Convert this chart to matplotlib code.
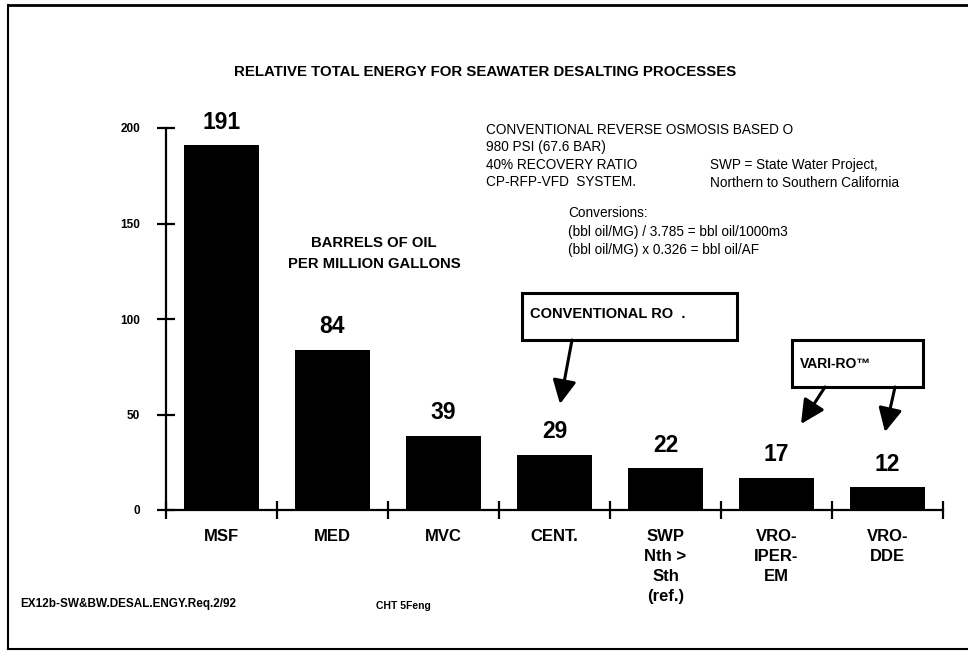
import matplotlib
matplotlib.use("Agg")
import matplotlib.pyplot as plt
from matplotlib.patches import Rectangle, FancyArrowPatch
from matplotlib.lines import Line2D

plt.rcParams['font.family'] = ['Liberation Sans', 'DejaVu Sans']

processes = ['MSF', 'MED', 'MVC', 'CENT.', 'SWP\nNth >\nSth\n(ref.)', 'VRO-\nIPER-\nEM', 'VRO-\nDDE']
barrels = [191, 84, 39, 29, 22, 17, 12]
yticks = [0, 50, 100, 150, 200]

W, H = 968, 660
fig = plt.figure(figsize=(W / 100, H / 100), dpi=100)

def px(x, y):
    # pixel coords (from top-left) -> figure fraction
    return x / W, 1 - y / H

ax = fig.add_axes([166 / W, (H - 510) / H, (943 - 166) / W, (510 - 128) / H])
centers = [i + 0.5 for i in range(len(barrels))]
ax.bar(centers, barrels, width=0.68, color='black')
ax.set_xlim(0, 7)
ax.set_ylim(0, 200)
for s in ['top', 'right']:
    ax.spines[s].set_visible(False)
for s in ['left', 'bottom']:
    ax.spines[s].set_linewidth(1.6)
ax.set_yticks(yticks)
ax.set_yticklabels([str(t) for t in yticks], fontsize=8.5, fontweight='bold')
ax.set_xticks(range(8))
ax.set_xticklabels([''] * 8)
ax.set_xticks(centers, minor=True)
ax.set_xticklabels(processes, minor=True, fontsize=12, fontweight='bold',
                   va='top', linespacing=1.4)
ax.tick_params(axis='both', which='major', direction='inout', length=13, width=1.6)
ax.tick_params(axis='y', pad=12)
ax.tick_params(axis='x', which='minor', length=0, pad=14)

for c, v in zip(centers, barrels):
    ax.annotate(str(v), (c, v), xytext=(0, 8), textcoords='offset points',
                ha='center', va='bottom', fontsize=16.5, fontweight='bold')

fig.text(*px(485, 72), 'RELATIVE TOTAL ENERGY FOR SEAWATER DESALTING PROCESSES',
         ha='center', va='center', fontsize=10.8, fontweight='bold')

notes = ['CONVENTIONAL REVERSE OSMOSIS BASED O', '980 PSI (67.6 BAR)',
         '40% RECOVERY RATIO', 'CP-RFP-VFD  SYSTEM.']
for i, t in enumerate(notes):
    fig.text(*px(486, 130 + i * 17.5), t, ha='left', va='center', fontsize=9.8)
fig.text(*px(710, 165), 'SWP = State Water Project,', ha='left', va='center', fontsize=9.8)
fig.text(*px(710, 183), 'Northern to Southern California', ha='left', va='center', fontsize=9.8)

conv = ['Conversions:', '(bbl oil/MG) / 3.785 = bbl oil/1000m3', '(bbl oil/MG) x 0.326 = bbl oil/AF']
for i, t in enumerate(conv):
    fig.text(*px(568, 213 + i * 18.5), t, ha='left', va='center', fontsize=9.8)

fig.text(*px(374, 243), 'BARRELS OF OIL', ha='center', va='center', fontsize=10.7, fontweight='bold')
fig.text(*px(374, 264), 'PER MILLION GALLONS', ha='center', va='center', fontsize=10.7, fontweight='bold')

# callout boxes
fig.patches.append(Rectangle(px(522, 340), 215 / W, 47 / H, transform=fig.transFigure,
                             fill=False, edgecolor='black', linewidth=2.2))
fig.text(*px(530, 314), 'CONVENTIONAL RO  .', ha='left', va='center', fontsize=10.5, fontweight='bold')
fig.patches.append(Rectangle(px(792, 387), 131 / W, 47 / H, transform=fig.transFigure,
                             fill=False, edgecolor='black', linewidth=2.2))
fig.text(*px(800, 364), 'VARI-RO™', ha='left', va='center', fontsize=10, fontweight='bold')

for start, end in [((572, 340), (560, 404)), ((825, 387), (801, 424)), ((895, 387), (885, 432))]:
    fig.add_artist(FancyArrowPatch(px(*start), px(*end), transform=fig.transFigure,
                                   arrowstyle='-|>,head_length=0.9,head_width=0.45',
                                   mutation_scale=16, color='black', lw=2.2,
                                   shrinkA=0, shrinkB=0))

fig.text(*px(20, 604), 'EX12b-SW&BW.DESAL.ENGY.Req.2/92', ha='left', va='center',
         fontsize=8.5, fontweight='bold')
fig.text(*px(376, 606), 'CHT 5Feng', ha='left', va='center', fontsize=7.5, fontweight='bold')

# outer frame
for xs, ys, lw in [([8, 8], [5, 649], 1.5), ([8, 968], [5, 5], 2.0), ([8, 968], [649, 649], 1.5)]:
    fig.add_artist(Line2D([x / W for x in xs], [1 - y / H for y in ys],
                          transform=fig.transFigure, color='black', lw=lw))

fig.savefig('out.png', dpi=100)
